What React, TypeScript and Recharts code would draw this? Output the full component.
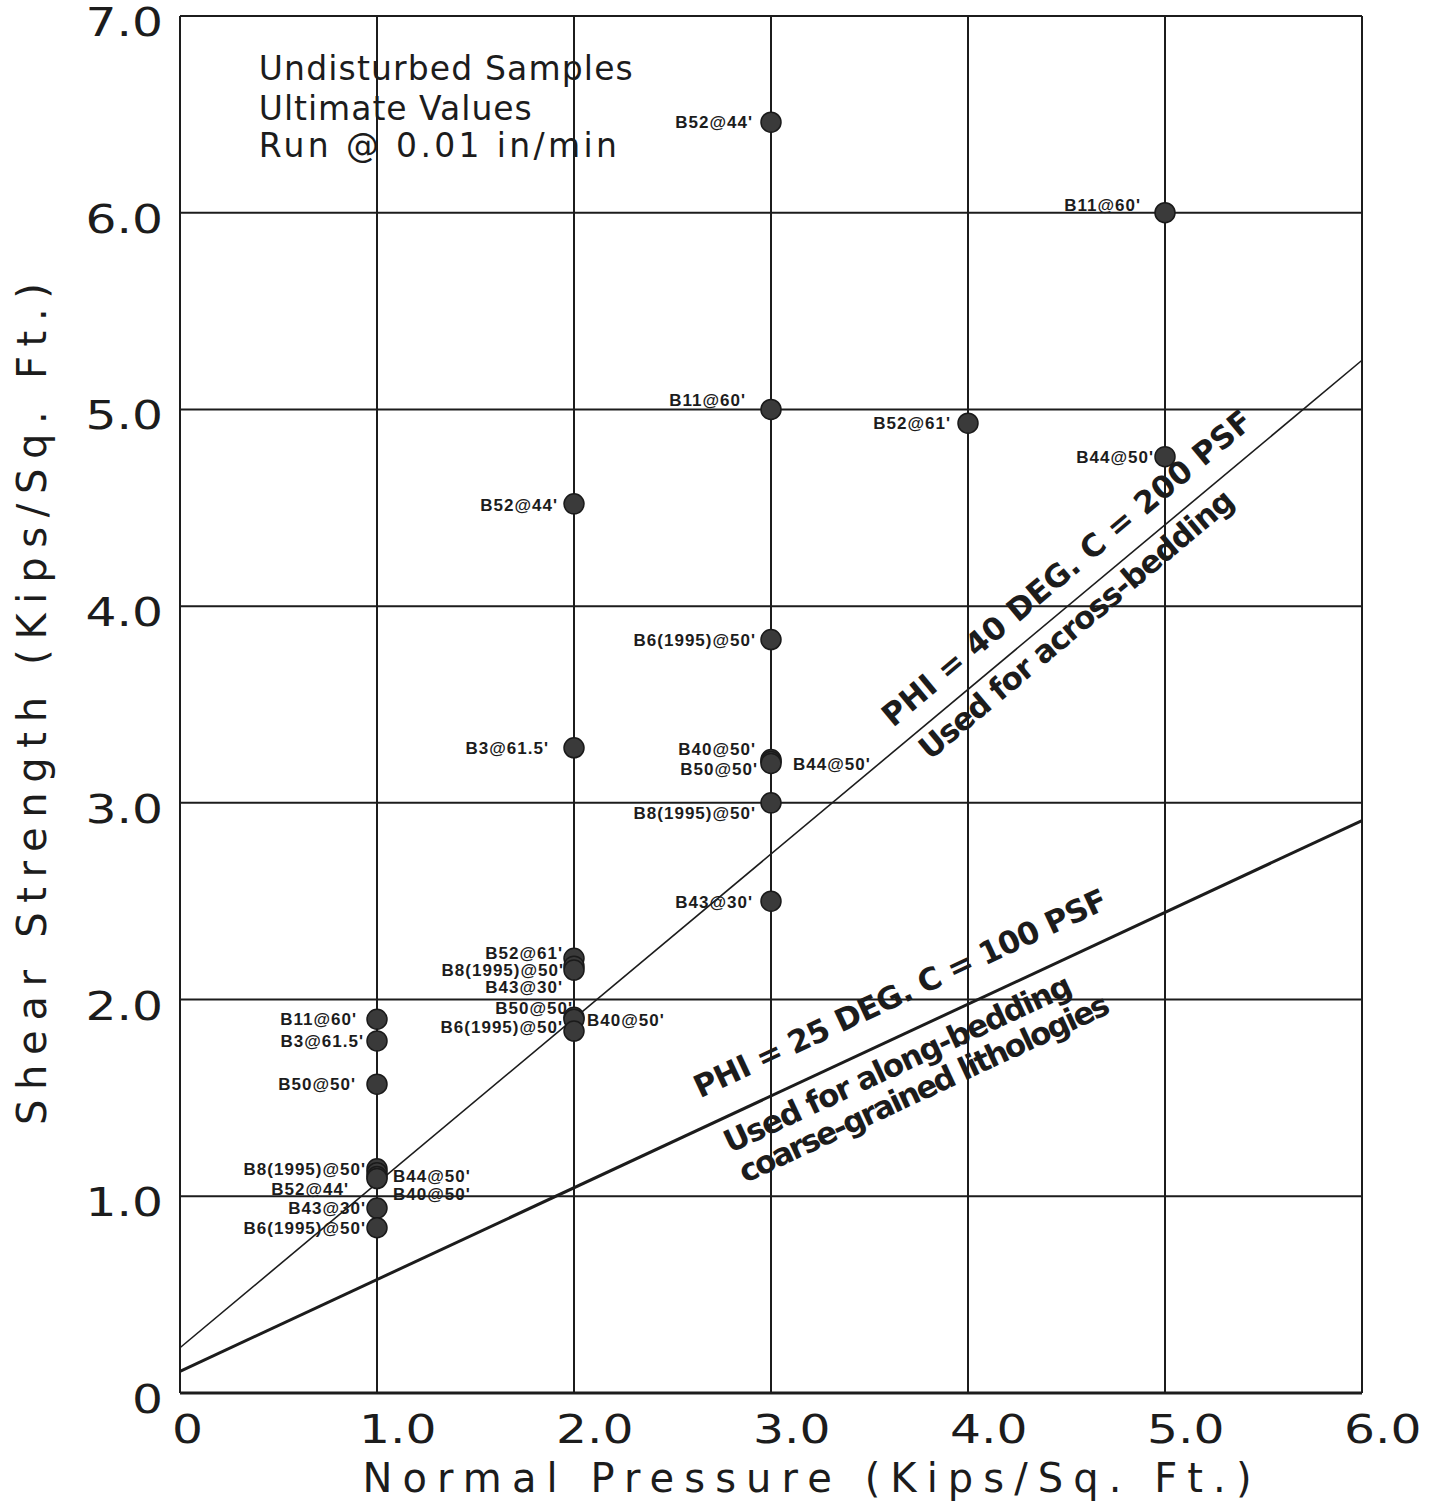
import React from 'react';
import {
  ScatterChart,
  Scatter,
  XAxis,
  YAxis,
  CartesianGrid,
  ReferenceLine,
  ReferenceDot,
  Label,
} from 'recharts';

const X_TICKS = [0, 1, 2, 3, 4, 5, 6];
const Y_TICKS = [0, 1, 2, 3, 4, 5, 6, 7];

// sample id, normal pressure (ksf), shear strength (ksf)
const SAMPLE_IDS = [
  "B11@60'", "B3@61.5'", "B50@50'", "B8(1995)@50'", "B44@50'", "B52@44'", "B40@50'", "B43@30'", "B6(1995)@50'",
  "B52@44'", "B3@61.5'", "B52@61'", "B8(1995)@50'", "B43@30'", "B50@50'", "B40@50'", "B6(1995)@50'",
  "B52@44'", "B11@60'", "B6(1995)@50'", "B40@50'", "B44@50'", "B50@50'", "B8(1995)@50'", "B43@30'",
  "B52@61'",
  "B11@60'", "B44@50'",
];
const NORMAL_PRESSURE = [
  1, 1, 1, 1, 1, 1, 1, 1, 1,
  2, 2, 2, 2, 2, 2, 2, 2,
  3, 3, 3, 3, 3, 3, 3, 3,
  4,
  5, 5,
];
const SHEAR_STRENGTH = [
  1.9, 1.79, 1.57, 1.14, 1.12, 1.1, 1.09, 0.94, 0.84,
  4.52, 3.28, 2.21, 2.17, 2.15, 1.91, 1.9, 1.84,
  6.46, 5.0, 3.83, 3.22, 3.21, 3.2, 3.0, 2.5,
  4.93,
  6.0, 4.76,
];

// strength envelopes, end points
const ENV40_X = [0, 6];
const ENV40_Y = [0.23, 5.25];
const ENV25_X = [0, 6];
const ENV25_Y = [0.11, 2.91];

// label placement relative to the dot: [dx, dy]; negative dx = label on the left
const LABEL_OFFSETS = [
  [-21, 0], [-14, 0], [-22, 0], [-12, 0], [16, 3], [-29, 12], [16, 15], [-12, 0], [-12, 0],
  [-17, 1], [-26, 0], [-12, -5], [-11, 4], [-12, 17], [-2, -9], [13, 1], [-12, -4],
  [-19, 0], [-26, -9], [-16, 0], [-16, -11], [22, 2], [-14, 5], [-16, 10], [-19, 1],
  [-18, 0],
  [-25, -8], [-12, 0],
];

const samples = SAMPLE_IDS.map((id, i) => ({
  i,
  id,
  x: NORMAL_PRESSURE[i],
  y: SHEAR_STRENGTH[i],
}));

const INK = '#1c1c1c';
const SANS = '"Liberation Sans", Arial, sans-serif';
const WIDE = '"DejaVu Sans", sans-serif';

// free text placed in data coordinates
const NOTES = [
  { text: 'Undisturbed Samples', x: 0.4, y: 6.675, angle: 0, len: 374, size: 33, weight: 400 },
  { text: 'Ultimate Values', x: 0.4, y: 6.472, angle: 0, len: 273, size: 33, weight: 400 },
  { text: 'Run @ 0.01 in/min', x: 0.4, y: 6.284, angle: 0, len: 358, size: 33, weight: 400 },
  { text: 'PHI = 40 DEG. C = 200 PSF', x: 3.619, y: 3.381, angle: -40, len: 472, size: 31, weight: 700 },
  { text: 'Used for across-bedding', x: 3.807, y: 3.213, angle: -40, len: 400, size: 31, weight: 700 },
  { text: 'PHI = 25 DEG. C = 100 PSF', x: 2.64, y: 1.497, angle: -25, len: 452, size: 31, weight: 700 },
  { text: 'Used for along-bedding', x: 2.792, y: 1.218, angle: -25, len: 380, size: 31, weight: 700 },
  { text: 'coarse-grained lithologies', x: 2.868, y: 1.066, angle: -25, len: 405, size: 31, weight: 700 },
];

const SampleDot = (props: any) => {
  const { cx, cy, payload } = props;
  const [dx, dy] = LABEL_OFFSETS[payload.i];
  const left = dx < 0;
  return (
    <g>
      <circle cx={cx} cy={cy} r={10} fill="#3a3a3a" stroke="#1a1a1a" strokeWidth={1.5} />
      <text
        x={cx + dx + (left ? 1 : 0)}
        y={cy + dy + 6}
        textAnchor={left ? 'end' : 'start'}
        fontFamily={SANS}
        fontWeight={700}
        fontSize={17}
        letterSpacing={1}
        fill={INK}
      >
        {payload.id}
      </text>
    </g>
  );
};

const tickText = (v: number) => (v === 0 ? '0' : v.toFixed(1));

const XTick = (props: any) => {
  const { x, y, payload } = props;
  const v = payload.value;
  const tx = v === 0 ? x - 8 : x - 18;
  return (
    <text
      transform={`translate(${tx},${y + 50}) scale(1.25,1)`}
      textAnchor="start"
      fontFamily={WIDE}
      fontSize={39}
      fill={INK}
    >
      {tickText(v)}
    </text>
  );
};

const YTick = (props: any) => {
  const { y, payload } = props;
  return (
    <text
      transform={`translate(163,${y + 20}) scale(1.25,1)`}
      textAnchor="end"
      fontFamily={WIDE}
      fontSize={39}
      fill={INK}
    >
      {tickText(payload.value)}
    </text>
  );
};

const noteLabel = (n: any) => (props: any) => {
  const vb = props.viewBox || {};
  const px = (vb.x ?? 0) + (vb.width ?? 0) / 2;
  const py = (vb.y ?? 0) + (vb.height ?? 0) / 2;
  return (
    <text
      x={px}
      y={py}
      transform={n.angle ? `rotate(${n.angle} ${px} ${py})` : undefined}
      fontFamily={WIDE}
      fontWeight={n.weight}
      fontSize={n.size}
      textLength={n.len}
      lengthAdjust="spacing"
      fill={INK}
    >
      {n.text}
    </text>
  );
};

export default function App() {
  return (
    <div style={{ position: 'absolute', left: 0, top: 0, background: '#fff' }}>
      <ScatterChart width={1441} height={1506} margin={{ top: 16, right: 79, bottom: 0, left: 0 }}>
        <CartesianGrid stroke={INK} strokeWidth={2} strokeOpacity={1} />
        <XAxis
          type="number"
          dataKey="x"
          domain={[0, 6]}
          ticks={X_TICKS}
          height={113}
          tickSize={0}
          tickMargin={0}
          axisLine={{ stroke: INK, strokeWidth: 3 }}
          tick={<XTick />}
          interval={0}
        >
          <Label
            content={() => (
              <text
                x={807}
                y={1492}
                textAnchor="middle"
                fontFamily={WIDE}
                fontSize={40}
                textLength={889}
                lengthAdjust="spacing"
                fill={INK}
              >
                Normal Pressure (Kips/Sq. Ft.)
              </text>
            )}
          />
        </XAxis>
        <YAxis
          type="number"
          dataKey="y"
          domain={[0, 7]}
          ticks={Y_TICKS}
          width={180}
          tickSize={0}
          tickMargin={0}
          axisLine={{ stroke: INK, strokeWidth: 2 }}
          tick={<YTick />}
          interval={0}
        >
          <Label
            content={() => (
              <text
                x={46}
                y={704}
                transform="rotate(-90 46 704)"
                textAnchor="middle"
                fontFamily={WIDE}
                fontSize={40}
                textLength={842}
                lengthAdjust="spacing"
                fill={INK}
              >
                Shear Strength (Kips/Sq. Ft.)
              </text>
            )}
          />
        </YAxis>
        <ReferenceLine
          segment={[
            { x: ENV40_X[0], y: ENV40_Y[0] },
            { x: ENV40_X[1], y: ENV40_Y[1] },
          ]}
          stroke={INK}
          strokeWidth={1.6}
          ifOverflow="visible"
        />
        <ReferenceLine
          segment={[
            { x: ENV25_X[0], y: ENV25_Y[0] },
            { x: ENV25_X[1], y: ENV25_Y[1] },
          ]}
          stroke={INK}
          strokeWidth={3}
          ifOverflow="visible"
        />
        {NOTES.map((n, k) => (
          <ReferenceDot
            key={k}
            x={n.x}
            y={n.y}
            r={0}
            fill="none"
            stroke="none"
            ifOverflow="visible"
            label={noteLabel(n)}
          />
        ))}
        <Scatter data={samples} shape={<SampleDot />} isAnimationActive={false} />
      </ScatterChart>
    </div>
  );
}
